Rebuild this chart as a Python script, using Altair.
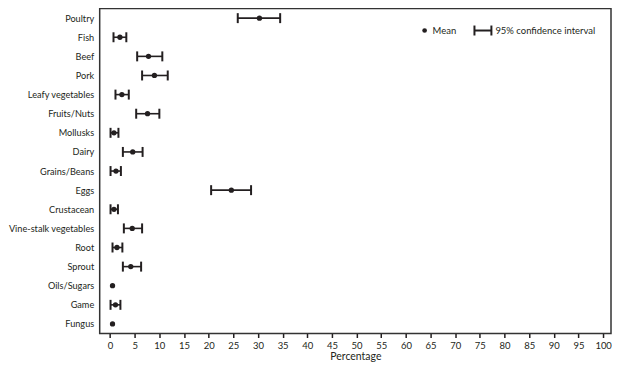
import altair as alt
import pandas as pd

categories = ["Poultry", "Fish", "Beef", "Pork", "Leafy vegetables", "Fruits/Nuts",
              "Mollusks", "Dairy", "Grains/Beans", "Eggs", "Crustacean",
              "Vine-stalk vegetables", "Root", "Sprout", "Oils/Sugars", "Game", "Fungus"]
means = [30.3, 2.0, 7.8, 9.0, 2.4, 7.6, 0.8, 4.6, 1.2, 24.6, 0.8, 4.5, 1.4, 4.2, 0.5, 1.1, 0.5]
lows = [25.9, 0.7, 5.5, 6.5, 1.1, 5.3, 0.1, 2.6, 0.1, 20.5, 0.1, 2.8, 0.5, 2.6, None, 0.1, None]
highs = [34.5, 3.3, 10.6, 11.7, 3.8, 10.0, 1.7, 6.6, 2.2, 28.6, 1.6, 6.5, 2.5, 6.3, None, 2.1, None]
tick_values = list(range(0, 101, 5))

df = pd.DataFrame({"cat": categories, "mean": means, "low": lows, "high": highs})
ci = df.dropna()

FONT = "Lato"
INK = "#231f20"

xscale = alt.Scale(domain=[-2.1, 101.6], nice=False, zero=False)
yscale = alt.Scale(type="point", padding=0.5, domain=categories)

x_axis = alt.Axis(values=tick_values, title="Percentage", grid=False, domain=False,
                  tickSize=4, tickColor=INK, tickWidth=1.5, labelFont=FONT, labelFontSize=9.5,
                  labelColor=INK, titleFont=FONT, titleFontSize=10.5, titleColor=INK,
                  titleFontWeight="normal", labelPadding=3, titlePadding=2, labelFlush=False,
                  labelOverlap=False, labelSeparation=0)
y_axis = alt.Axis(title=None, grid=False, domain=False, ticks=False, labelFont=FONT,
                  labelFontSize=9.2, labelColor=INK, labelPadding=6, minExtent=90, maxExtent=90)


def X(field):
    return alt.X(field, type="quantitative", scale=xscale, axis=x_axis, title="Percentage")


Y = alt.Y("cat:N", scale=yscale, axis=y_axis, sort=categories)

base = alt.Chart(ci)
rule = base.mark_rule(color=INK, strokeWidth=1.6).encode(x=X("low"), x2="high", y=Y)
cap_lo = base.mark_tick(color=INK, orient="vertical", size=10, thickness=2, opacity=1).encode(
    x=X("low"), y=Y)
cap_hi = base.mark_tick(color=INK, orient="vertical", size=10, thickness=2, opacity=1).encode(
    x=X("high"), y=Y)
pts = alt.Chart(df).mark_point(filled=True, color=INK, opacity=1, size=28).encode(
    x=X("mean"), y=Y)

# legend
leg = alt.Chart(pd.DataFrame({"k": [0]}))
ly = 22
leg_dot = leg.mark_point(filled=True, color=INK, opacity=1, size=22).encode(
    x=alt.value(326), y=alt.value(ly))
leg_mean = leg.mark_text(text="Mean", align="left", baseline="middle", font=FONT,
                         fontSize=9.5, color=INK).encode(x=alt.value(334), y=alt.value(ly))
leg_line = leg.mark_rule(color=INK, strokeWidth=2).encode(
    x=alt.value(376), x2=alt.value(393), y=alt.value(ly))
leg_c1 = leg.mark_rule(color=INK, strokeWidth=2).encode(
    x=alt.value(376), y=alt.value(ly - 5), y2=alt.value(ly + 5))
leg_c2 = leg.mark_rule(color=INK, strokeWidth=2).encode(
    x=alt.value(393), y=alt.value(ly - 5), y2=alt.value(ly + 5))
leg_ci = leg.mark_text(text="95% confidence interval", align="left", baseline="middle",
                       font=FONT, fontSize=9.5, color=INK).encode(x=alt.value(397), y=alt.value(ly))

chart = alt.layer(rule, cap_lo, cap_hi, pts, leg_dot, leg_mean, leg_line, leg_c1, leg_c2, leg_ci
                  ).properties(width=513, height=326, padding={"left": 0, "top": 0, "right": 0, "bottom": 0}
                  ).configure_view(stroke="#333333", strokeWidth=1.5)

chart.save("out.html", embed_options={"renderer": "svg", "actions": False})
